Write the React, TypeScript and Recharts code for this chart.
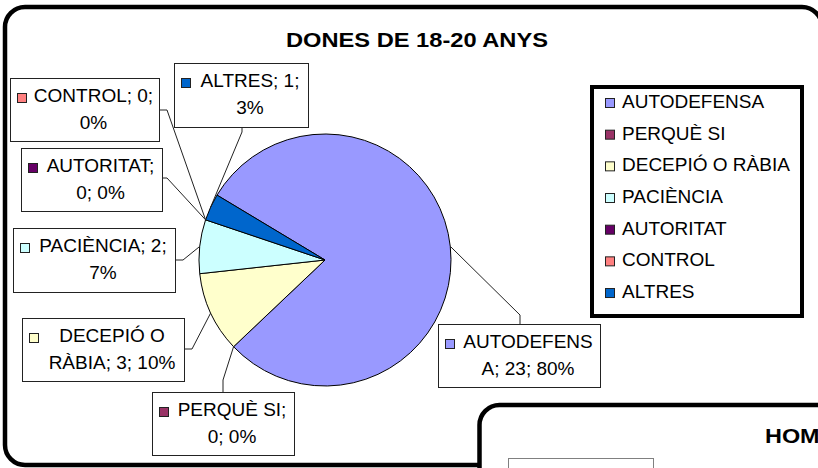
import { PieChart, Pie, Cell, Legend } from "recharts";

const categories = [
  "AUTODEFENSA",
  "PERQUÈ SI",
  "DECEPIÓ O RÀBIA",
  "PACIÈNCIA",
  "AUTORITAT",
  "CONTROL",
  "ALTRES",
];
const counts = [23, 0, 3, 2, 0, 0, 1];
const pctLabels = ["80%", "0%", "10%", "7%", "0%", "0%", "3%"];
const colors = ["#9999FF", "#993366", "#FFFFCC", "#CCFFFF", "#660066", "#FF8080", "#0066CC"];

const title = "DONES DE 18-20 ANYS";
const nextTitle = "HOMES DE 18-20 ANYS";

const data = categories.map((name, i) => ({ name, value: counts[i], fill: colors[i] }));

// where each data label box sits, and the bend of its leader line
const labelLayout = [
  { x: 438, y: 324, w: 162, h: 63, elbow: [520, 315], anchor: [520, 324], breakAt: 10 },
  { x: 152, y: 392, w: 142, h: 63, elbow: [223, 380], anchor: [223, 392], breakAt: 10 },
  { x: 22, y: 318, w: 162, h: 63, elbow: [192, 349], anchor: [184, 349], breakAt: 9 },
  { x: 13, y: 228, w: 162, h: 64, elbow: [183, 260], anchor: [175, 260], breakAt: 13 },
  { x: 21, y: 148, w: 141, h: 63, elbow: [167, 178], anchor: [162, 178], breakAt: 10 },
  { x: 10, y: 78, w: 149, h: 63, elbow: [167, 110], anchor: [159, 110], breakAt: 11 },
  { x: 174, y: 63, w: 134, h: 64, elbow: [242, 132], anchor: [242, 127], breakAt: 10 },
];

const FONT = '"Liberation Sans", Arial, sans-serif';
const RAD = Math.PI / 180;

function renderLabel(props: any) {
  const { cx, cy, midAngle, outerRadius, index } = props;
  const lay = labelLayout[index];
  const sx = cx + outerRadius * Math.cos(-midAngle * RAD);
  const sy = cy + outerRadius * Math.sin(-midAngle * RAD);
  const full = `${categories[index]}; ${counts[index]}; ${pctLabels[index]}`;
  const line1 = full.slice(0, lay.breakAt).trim();
  const line2 = full.slice(lay.breakAt).trim();
  const tx = (lay.x + 18 + lay.x + lay.w) / 2;
  return (
    <g key={`lbl-${index}`}>
      <polyline
        points={`${sx},${sy} ${lay.elbow[0]},${lay.elbow[1]} ${lay.anchor[0]},${lay.anchor[1]}`}
        fill="none"
        stroke="#222"
        strokeWidth={1}
      />
      <rect x={lay.x + 0.5} y={lay.y + 0.5} width={lay.w} height={lay.h} fill="#fff" stroke="#222" strokeWidth={1} />
      <rect x={lay.x + 7.5} y={lay.y + 15.5} width={9} height={9} fill={colors[index]} stroke="#222" strokeWidth={1} />
      <text x={tx} y={lay.y + 24} textAnchor="middle" fontFamily={FONT} fontSize={19} fill="#000">
        {line1}
      </text>
      <text x={tx} y={lay.y + 51} textAnchor="middle" fontFamily={FONT} fontSize={19} fill="#000">
        {line2}
      </text>
    </g>
  );
}

function renderLegend(props: any) {
  // keep the series order, not alphabetical
  const payload = [...(props.payload || [])].sort(
    (a: any, b: any) => categories.indexOf(a.value) - categories.indexOf(b.value)
  );
  return (
    <svg width={214} height={233} style={{ display: "block" }}>
      <rect x={2} y={2} width={210} height={229} fill="#fff" stroke="#000" strokeWidth={4} />
      {payload.map((entry: any, i: number) => {
        const base = 23 + i * 31.67;
        const c = colors[categories.indexOf(entry.value)];
        return (
          <g key={entry.value}>
            <rect x={15.5} y={base - 9.5} width={9} height={9} fill={c} stroke="#222" strokeWidth={1} />
            <text x={32} y={base} fontFamily={FONT} fontSize={19} fill="#000">
              {entry.value}
            </text>
          </g>
        );
      })}
    </svg>
  );
}

export default function App() {
  return (
    <div style={{ position: "relative", width: 818, height: 468, overflow: "hidden", background: "#fff" }}>
      <style>{`body{margin:0}`}</style>
      <svg width={818} height={468} style={{ position: "absolute", left: 0, top: 0 }}>
        <rect x={5} y={7} width={817} height={458} rx={20} fill="#fff" stroke="#000" strokeWidth={4.5} />
        <text
          x={417}
          y={47}
          textAnchor="middle"
          fontFamily={FONT}
          fontWeight="bold"
          fontSize={20}
          textLength={262}
          lengthAdjust="spacingAndGlyphs"
          fill="#000"
        >
          {title}
        </text>
      </svg>
      <div style={{ position: "absolute", left: 0, top: 0 }}>
        <PieChart width={818} height={468} margin={{ top: 0, right: 0, bottom: 0, left: 0 }}>
          <Pie
            data={data}
            dataKey="value"
            nameKey="name"
            cx={325}
            cy={260}
            outerRadius={126}
            startAngle={149}
            endAngle={-211}
            stroke="#000"
            strokeWidth={1}
            label={renderLabel}
            labelLine={false}
            isAnimationActive={false}
          >
            {data.map((d) => (
              <Cell key={d.name} fill={d.fill} />
            ))}
          </Pie>
          <Legend
            content={renderLegend}
            wrapperStyle={{ left: 590, top: 85, right: "auto", bottom: "auto", width: 214, height: 233 }}
          />
        </PieChart>
      </div>
      <svg width={818} height={468} style={{ position: "absolute", left: 0, top: 0, pointerEvents: "none" }}>
        <rect x={479.5} y={405} width={400} height={120} rx={20} fill="#fff" stroke="#000" strokeWidth={4.5} />
        <text
          x={765}
          y={443}
          fontFamily={FONT}
          fontWeight="bold"
          fontSize={20}
          textLength={262}
          lengthAdjust="spacingAndGlyphs"
          fill="#000"
        >
          {nextTitle}
        </text>
        <rect x={508.5} y={458.5} width={145} height={30} fill="#fff" stroke="#808080" strokeWidth={1} />
      </svg>
    </div>
  );
}
